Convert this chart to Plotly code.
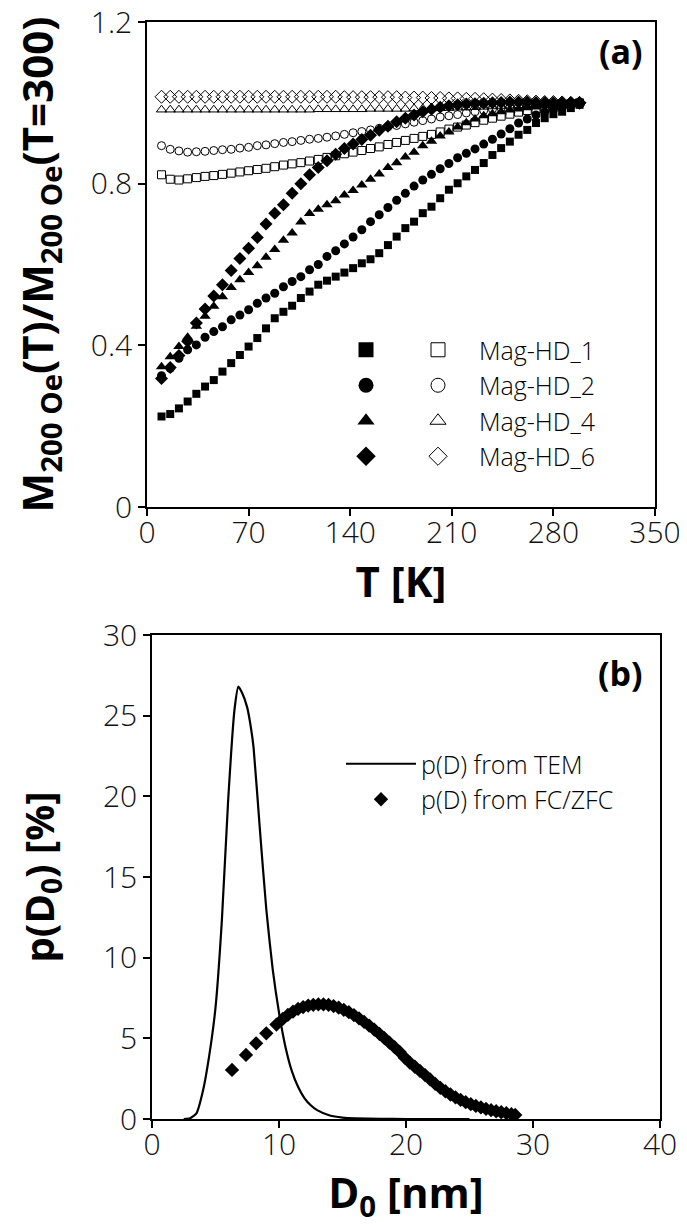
import plotly.graph_objects as go

# ---------------- Panel (a) data ----------------
T = [10, 16, 22, 28, 34, 40, 46, 52, 58, 64, 70, 76, 82, 88, 94, 100, 106, 112, 118, 124,
     130, 136, 142, 148, 154, 160, 166, 172, 178, 184, 190, 196, 202, 208, 214, 220, 226,
     232, 238, 244, 250, 256, 262, 268, 274, 280, 286, 292, 298]

hd1_zfc = [0.224, 0.230, 0.244, 0.261, 0.280, 0.298, 0.314, 0.335, 0.356, 0.376, 0.397, 0.418,
           0.442, 0.467, 0.483, 0.498, 0.517, 0.533, 0.550, 0.560, 0.570, 0.580, 0.591, 0.603,
           0.613, 0.628, 0.648, 0.669, 0.690, 0.706, 0.727, 0.743, 0.764, 0.785, 0.801, 0.818,
           0.834, 0.851, 0.871, 0.888, 0.904, 0.921, 0.933, 0.950, 0.962, 0.972, 0.978, 0.987, 0.995]
hd2_zfc = [0.325, 0.343, 0.368, 0.389, 0.401, 0.420, 0.434, 0.446, 0.463, 0.475, 0.488, 0.504,
           0.517, 0.529, 0.545, 0.558, 0.570, 0.587, 0.600, 0.620, 0.634, 0.651, 0.668, 0.686,
           0.706, 0.723, 0.741, 0.759, 0.776, 0.794, 0.809, 0.823, 0.837, 0.850, 0.864, 0.875,
           0.886, 0.898, 0.910, 0.923, 0.936, 0.950, 0.960, 0.970, 0.977, 0.983, 0.988, 0.993, 0.998]
hd4_zfc = [0.347, 0.372, 0.397, 0.420, 0.447, 0.472, 0.497, 0.520, 0.543, 0.562, 0.580, 0.597,
           0.618, 0.637, 0.660, 0.678, 0.705, 0.726, 0.737, 0.748, 0.758, 0.772, 0.783, 0.797,
           0.811, 0.824, 0.840, 0.852, 0.866, 0.878, 0.894, 0.905, 0.918, 0.928, 0.940, 0.951,
           0.960, 0.968, 0.973, 0.978, 0.982, 0.985, 0.988, 0.990, 0.992, 0.994, 0.996, 0.998, 1.000]
hd6_zfc = [0.318, 0.345, 0.375, 0.410, 0.455, 0.490, 0.522, 0.550, 0.585, 0.615, 0.640, 0.667,
           0.700, 0.727, 0.748, 0.776, 0.800, 0.822, 0.840, 0.857, 0.873, 0.887, 0.898, 0.909,
           0.920, 0.932, 0.942, 0.953, 0.962, 0.970, 0.978, 0.984, 0.989, 0.993, 0.995, 0.997,
           0.998, 0.999, 1.000, 1.001, 1.002, 1.002, 1.002, 1.001, 1.001, 1.000, 1.000, 1.000, 1.000]

hd1_fc = [0.822, 0.811, 0.809, 0.812, 0.815, 0.818, 0.820, 0.823, 0.826, 0.829, 0.832, 0.835,
          0.838, 0.842, 0.846, 0.849, 0.852, 0.856, 0.860, 0.865, 0.869, 0.874, 0.878, 0.882,
          0.887, 0.891, 0.897, 0.902, 0.907, 0.912, 0.917, 0.922, 0.928, 0.935, 0.940, 0.945,
          0.951, 0.957, 0.962, 0.967, 0.972, 0.977, 0.981, 0.985, 0.989, 0.992, 0.995, 0.998, 1.000]
hd2_fc = [0.894, 0.885, 0.881, 0.878, 0.879, 0.880, 0.882, 0.884, 0.885, 0.888, 0.890, 0.894,
          0.896, 0.899, 0.902, 0.904, 0.907, 0.910, 0.912, 0.915, 0.918, 0.922, 0.926, 0.929,
          0.933, 0.937, 0.941, 0.944, 0.948, 0.952, 0.956, 0.960, 0.965, 0.968, 0.971, 0.975,
          0.978, 0.981, 0.984, 0.987, 0.990, 0.992, 0.994, 0.996, 0.997, 0.998, 0.999, 1.000, 1.000]
hd4_fc = [0.983, 0.983, 0.983, 0.983, 0.983, 0.983, 0.983, 0.983, 0.983, 0.983, 0.983, 0.983,
          0.983, 0.983, 0.983, 0.983, 0.983, 0.983, 0.984, 0.984, 0.984, 0.984, 0.984, 0.984,
          0.985, 0.985, 0.985, 0.985, 0.985, 0.986, 0.986, 0.986, 0.987, 0.987, 0.988, 0.988,
          0.989, 0.990, 0.991, 0.992, 0.993, 0.994, 0.995, 0.996, 0.997, 0.998, 0.999, 1.000, 1.000]
hd6_fc = [1.015, 1.015, 1.015, 1.015, 1.015, 1.015, 1.015, 1.015, 1.015, 1.015, 1.015, 1.015,
          1.015, 1.015, 1.015, 1.015, 1.015, 1.015, 1.015, 1.015, 1.015, 1.014, 1.014, 1.014,
          1.014, 1.014, 1.014, 1.014, 1.013, 1.013, 1.013, 1.012, 1.012, 1.011, 1.011, 1.010,
          1.010, 1.009, 1.008, 1.007, 1.006, 1.005, 1.004, 1.003, 1.002, 1.002, 1.001, 1.000, 1.000]

sample_names = ["Mag-HD_1", "Mag-HD_2", "Mag-HD_4", "Mag-HD_6"]
t_ticks = [0, 70, 140, 210, 280, 350]
m_ticks = [0, 0.4, 0.8, 1.2]
m_tick_labels = ["0", "0.4", "0.8", "1.2"]

# ---------------- Panel (b) data ----------------
d_tem = [2.5, 3.0, 3.5, 4.0, 4.5, 5.0, 5.5, 6.0, 6.5, 6.8, 7.1, 7.5, 7.8, 8.0, 8.5, 9.0, 9.5,
         10.0, 10.5, 11.0, 11.5, 12.0, 12.5, 13.0, 14.0, 15.0, 16.0, 18.0, 20.0, 25.0]
p_tem = [0.0, 0.05, 0.35, 1.7, 3.9, 6.9, 12.3, 19.8, 25.4, 26.8, 26.4, 25.5, 24.2, 23.0, 17.9,
         13.0, 9.3, 6.6, 4.5, 3.0, 2.0, 1.3, 0.85, 0.55, 0.22, 0.09, 0.04, 0.01, 0.0, 0.0]

d_fc = [6.3, 7.4, 8.2, 9.0, 9.8, 10.3, 10.7, 11.1, 11.5, 11.9, 12.3, 12.7, 13.1, 13.5, 13.9,
        14.3, 14.7, 15.1, 15.5, 15.9, 16.3, 16.7, 17.1, 17.5, 17.9, 18.3, 18.7, 19.1, 19.5,
        19.9, 20.3, 20.7, 21.1, 21.5, 21.9, 22.3, 22.7, 23.1, 23.5, 23.9, 24.3, 24.7, 25.1,
        25.5, 25.9, 26.3, 26.7, 27.1, 27.5, 27.9, 28.3, 28.6]
p_fc = [3.04, 3.97, 4.69, 5.31, 5.85, 6.20, 6.45, 6.65, 6.82, 6.94, 7.03, 7.08, 7.10, 7.10,
        7.07, 7.00, 6.90, 6.77, 6.62, 6.44, 6.24, 6.02, 5.79, 5.54, 5.28, 5.01, 4.73, 4.45,
        4.16, 3.80, 3.50, 3.24, 2.98, 2.72, 2.45, 2.18, 1.93, 1.72, 1.52, 1.34, 1.18, 1.04,
        0.92, 0.81, 0.72, 0.63, 0.55, 0.48, 0.42, 0.36, 0.30, 0.25]

d_ticks = [0, 10, 20, 30, 40]
p_ticks = [0, 5, 10, 15, 20, 25, 30]
legend_b = ["p(D) from TEM", "p(D) from FC/ZFC"]

# ---------------- Figure ----------------
PAGE_OFF = 8                      # default body margin of the page
W, H = 687 - PAGE_OFF, 1226 - PAGE_OFF
FONT = "Open Sans"
fig = go.Figure()

zfc_series = [hd1_zfc, hd2_zfc, hd4_zfc, hd6_zfc]
fc_series = [hd1_fc, hd2_fc, hd4_fc, hd6_fc]
filled_sym = ["square", "circle", "triangle-up", "diamond"]
open_sym = ["square-open", "circle-open", "triangle-up-open", "diamond-open"]
filled_size = [8, 9, 10, 10]
open_size = [8, 8, 9, 10]

for i in range(4):
    fig.add_trace(go.Scatter(x=T, y=fc_series[i], mode="markers", showlegend=False,
                             marker=dict(symbol=open_sym[i], size=open_size[i], color="black",
                                         line=dict(width=1, color="black")),
                             xaxis="x", yaxis="y"))
for i in range(4):
    fig.add_trace(go.Scatter(x=T, y=zfc_series[i], mode="markers", showlegend=False,
                             marker=dict(symbol=filled_sym[i], size=filled_size[i], color="black"),
                             xaxis="x", yaxis="y"))

# legend-only entries for panel (a)
for i in range(4):
    fig.add_trace(go.Scatter(x=[None], y=[None], mode="markers", name="",
                             legend="legend",
                             marker=dict(symbol=filled_sym[i], size=15, color="black"),
                             xaxis="x", yaxis="y"))
for i in range(4):
    fig.add_trace(go.Scatter(x=[None], y=[None], mode="markers", name=sample_names[i],
                             legend="legend2",
                             marker=dict(symbol=open_sym[i], size=14, color="black",
                                         line=dict(width=1)),
                             xaxis="x", yaxis="y"))

# panel (b)
fig.add_trace(go.Scatter(x=d_tem, y=p_tem, mode="lines", name=legend_b[0], legend="legend3",
                         line=dict(color="black", width=2.2, shape="spline", smoothing=0.5),
                         xaxis="x2", yaxis="y2"))
fig.add_trace(go.Scatter(x=d_fc, y=p_fc, mode="markers", name=legend_b[1], legend="legend3",
                         marker=dict(symbol="diamond", size=11, color="black"),
                         xaxis="x2", yaxis="y2"))

def px_x(v):
    return (v - PAGE_OFF) / W

def px_y(v):
    return 1 - (v - PAGE_OFF) / H

axis_common = dict(showline=True, linecolor="black", linewidth=1.6, mirror=True,
                   ticks="outside", ticklen=7, tickwidth=1.6, tickcolor="black",
                   showgrid=False, zeroline=False, automargin=False,
                   ticklabeloverflow="allow",
                   tickfont=dict(family=FONT, size=30, color="#111", weight=300))

TITLE_FONT = dict(family=FONT, color="black", weight="bold")

fig.update_layout(
    template="none",
    width=W, height=H,
    margin=dict(l=0, r=0, t=0, b=0, autoexpand=False),
    paper_bgcolor="white", plot_bgcolor="white",
    showlegend=True,
    xaxis=dict(domain=[px_x(147), px_x(655)], range=[0, 350], tickvals=t_ticks,
               anchor="y", ticklabelstandoff=-9,
               title=dict(text="T [K]", font=dict(size=42, **TITLE_FONT), standoff=0),
               **axis_common),
    yaxis=dict(domain=[px_y(507), px_y(22)], range=[0, 1.2], tickvals=m_ticks,
               ticktext=m_tick_labels, anchor="x",
               title=dict(text="M<sub>200 Oe</sub>(T)/M<sub>200 Oe</sub>(T=300)",
                          font=dict(size=42, **TITLE_FONT), standoff=28),
               **axis_common),
    xaxis2=dict(domain=[px_x(152), px_x(660)], range=[0, 40], tickvals=d_ticks,
                anchor="y2", ticklabelstandoff=-9,
                title=dict(text="D<sub>0</sub> [nm]", font=dict(size=42, **TITLE_FONT), standoff=0),
                **axis_common),
    yaxis2=dict(domain=[px_y(1119), px_y(635)], range=[0, 30], tickvals=p_ticks,
                anchor="x2",
                title=dict(text="p(D<sub>0</sub>) [%]", font=dict(size=40, **TITLE_FONT),
                           standoff=36),
                **axis_common),
    legend=dict(x=px_x(325), y=px_y(327), xanchor="left", yanchor="top", itemwidth=72,
                bgcolor="rgba(0,0,0,0)", font=dict(family=FONT, size=25, color="black", weight=300),
                tracegroupgap=0),
    legend2=dict(x=px_x(397), y=px_y(327), xanchor="left", yanchor="top", itemwidth=72,
                 bgcolor="rgba(0,0,0,0)", font=dict(family=FONT, size=25, color="black", weight=300),
                 tracegroupgap=0),
    legend3=dict(x=px_x(341), y=px_y(741), xanchor="left", yanchor="top", itemwidth=70,
                 bgcolor="rgba(0,0,0,0)", font=dict(family=FONT, size=25, color="black", weight=300),
                 tracegroupgap=0),
    annotations=[
        dict(text="<b>(a)</b>", x=px_x(645), y=px_y(51), xref="paper", yref="paper",
             xanchor="right", yanchor="middle", showarrow=False,
             font=dict(family=FONT, size=34, color="black")),
        dict(text="<b>(b)</b>", x=px_x(645), y=px_y(673), xref="paper", yref="paper",
             xanchor="right", yanchor="middle", showarrow=False,
             font=dict(family=FONT, size=34, color="black")),
    ],
)

fig.write_html("out.html")
